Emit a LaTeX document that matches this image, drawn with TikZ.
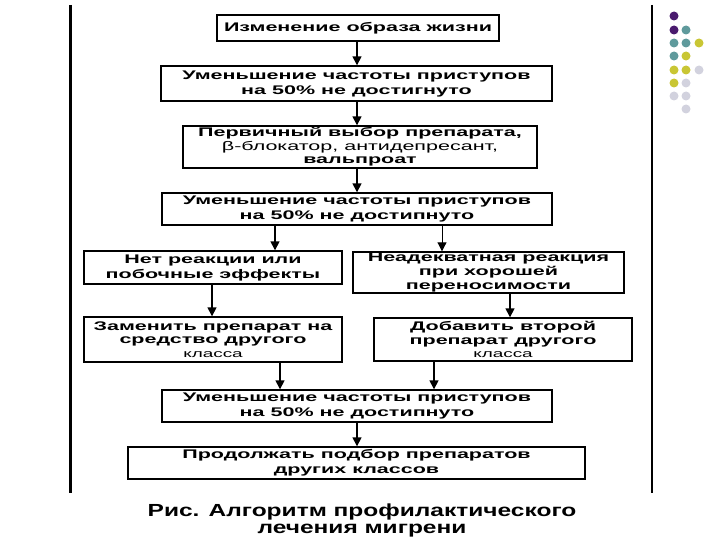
\documentclass[tikz,border=0pt]{standalone}
\usepackage{fontspec}
\usetikzlibrary{arrows.meta}
\newfontfamily\boxfont[FakeStretch=1.72]{Liberation Sans}
\newfontfamily\capfont[FakeStretch=1.4]{Liberation Sans}
\definecolor{dotpurple}{HTML}{4A1A6E}
\definecolor{dotteal}{HTML}{5F9A9C}
\definecolor{dotyellow}{HTML}{C9C634}
\definecolor{dotgrey}{HTML}{D2D2DE}
\tikzset{
  box/.style={draw, line width=1.4pt, inner sep=1pt, align=center,
    font=\boxfont\bfseries\fontsize{12.5}{15}\selectfont},
  tightbox/.style={box, font=\boxfont\bfseries\fontsize{12.5}{13.6}\selectfont},
  arr/.style={line width=1.6pt, -{Triangle[width=9pt,length=9pt]}},
  side/.style={line width=2.5pt},
}
\begin{document}
\begin{tikzpicture}[x=1pt,y=-1pt]
\useasboundingbox (0,0) rectangle (720,540);
% frame lines
\draw[side] (70.5,5) -- (70.5,493);
\draw[side] (652,5) -- (652,493);
% dots
\foreach \x/\y/\c in {674/16/dotpurple, 674/30/dotpurple, 686/30/dotteal,
  674/43/dotteal, 686/43/dotteal, 699/43/dotyellow, 674/56/dotteal, 686/56/dotyellow,
  674/70/dotyellow, 686/70/dotyellow, 699/70/dotgrey, 674/83/dotyellow, 686/83/dotgrey,
  674/96/dotgrey, 686/96/dotgrey, 686/109/dotgrey}
  \fill[\c] (\x,\y) circle[radius=4.5pt];
% boxes
\node[box, minimum width=282pt, minimum height=26pt] (life) at (358,28) {Изменение образа жизни};
\node[box, minimum width=391pt, minimum height=35pt] (fail1) at (356.5,83.5) {Уменьшение частоты приступов\\на 50\% не достигнуто};
\node[tightbox, minimum width=354pt, minimum height=42pt] (first) at (360,147) {Первичный выбор препарата,\\{\mdseries β-блокатор, антидепресант,}\\вальпроат};
\node[box, minimum width=390pt, minimum height=32pt] (fail2) at (357,209) {Уменьшение частоты приступов\\на 50\% не достипнуто};
\node[box, minimum width=258pt, minimum height=33pt] (noresp) at (213,267.5) {Нет реакции или\\побочные эффекты};
\node[tightbox, minimum width=271pt, minimum height=41pt] (poor) at (488.5,272.5) {Неадекватная реакция\\при хорошей\\переносимости};
\node[tightbox, minimum width=258pt, minimum height=45pt] (swap) at (213,339.5) {Заменить препарат на\\средство другого\\{\mdseries\fontsize{11}{13}\selectfont класса}};
\node[tightbox, minimum width=258pt, minimum height=43pt] (add) at (503,339.5) {Добавить второй\\препарат другого\\{\mdseries\fontsize{11}{13}\selectfont класса}};
\node[box, minimum width=390pt, minimum height=32pt] (fail3) at (357,406) {Уменьшение частоты приступов\\на 50\% не достипнуто};
\node[box, minimum width=457pt, minimum height=32pt] (cont) at (356.5,463) {Продолжать подбор препаратов\\других классов};
% caption
\node[align=center, font=\capfont\bfseries\fontsize{17.5}{17}\selectfont] (cap) at (362,520) {Рис. Алгоритм профилактического\\лечения мигрени};
% arrow columns
\coordinate (cm) at (357,0);
\coordinate (c1) at (275,0);
\coordinate (c2) at (442,0);
\coordinate (c3) at (212,0);
\coordinate (c4) at (510,0);
\coordinate (c5) at (280,0);
\coordinate (c6) at (434,0);
% arrows
\draw[arr] (life.south -| cm) -- (fail1.north -| cm);
\draw[arr] (fail1.south -| cm) -- (first.north -| cm);
\draw[arr] (first.south -| cm) -- (fail2.north -| cm);
\draw[arr] (fail2.south -| c1) -- (noresp.north -| c1);
\draw[arr, line width=1pt] (fail2.south -| c2) -- (poor.north -| c2);
\draw[arr] (noresp.south -| c3) -- (swap.north -| c3);
\draw[arr] (poor.south -| c4) -- (add.north -| c4);
\draw[arr] (swap.south -| c5) -- (fail3.north -| c5);
\draw[arr] (add.south -| c6) -- (fail3.north -| c6);
\draw[arr] (fail3.south -| cm) -- (cont.north -| cm);
\end{tikzpicture}
\end{document}
